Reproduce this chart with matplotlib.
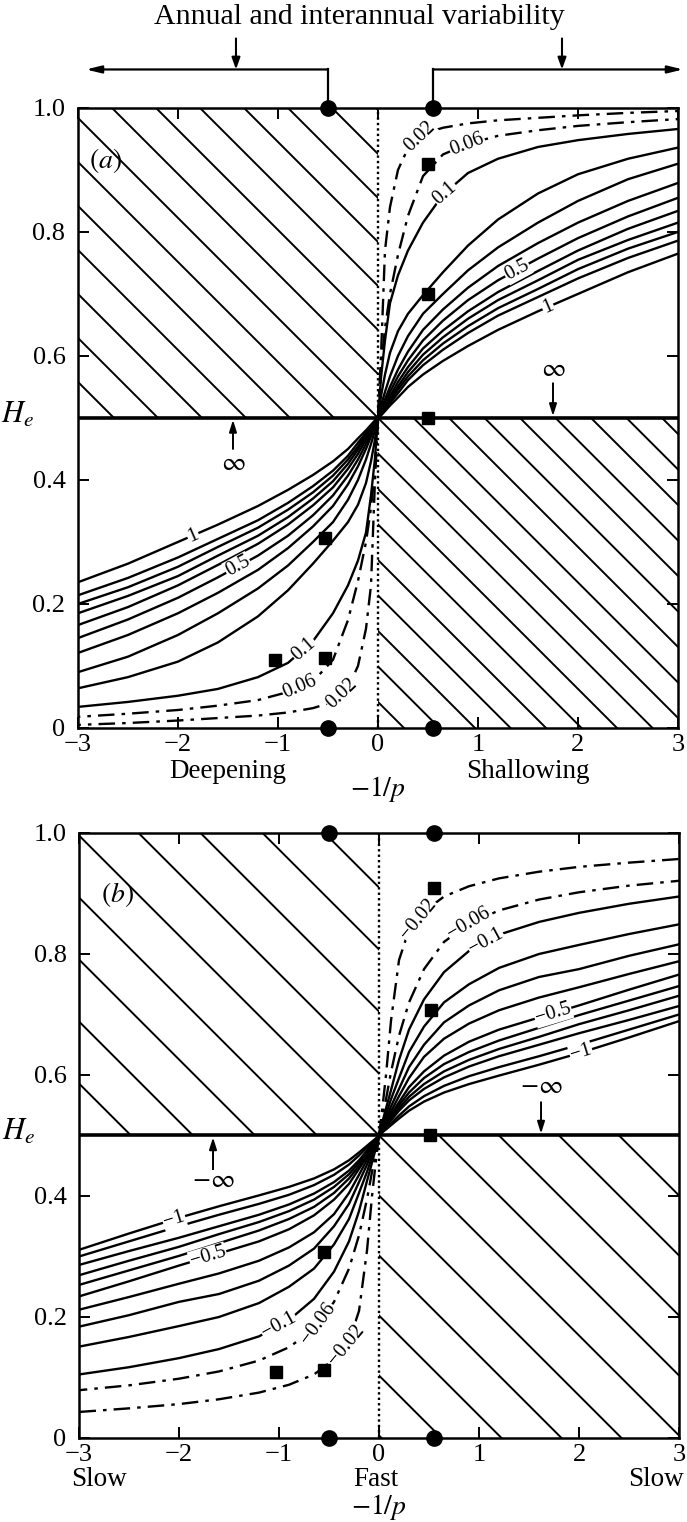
import numpy as np
import matplotlib
matplotlib.use("Agg")
import matplotlib.pyplot as plt
from matplotlib.patches import Rectangle

plt.rcParams['font.family'] = ['Liberation Serif', 'DejaVu Serif']
plt.rcParams['mathtext.fontset'] = 'stix'

# -------------------------------------------------
# Data
# -------------------------------------------------
# x positions (-1/p) at which every contour of the upper-right quadrant was read
x_grid = [0, 0.03, 0.07, 0.12, 0.2, 0.3, 0.45, 0.65, 0.9, 1.2, 1.6, 2.0, 2.5, 3.0]

# panel (a): H_e of each contour in the upper-right quadrant
a_002 = [.5, .60, .77, .84, .90, .935, .958, .968, .975, .98, .984, .988, .992, .995]
a_006 = [.5, .58, .645, .70, .763, .826, .89, .925, .942, .955, .964, .971, .977, .982]
a_01 = [.5, .565, .625, .685, .73, .77, .815, .86, .895, .918, .937, .948, .958, .966]
a_02 = [.5, .535, .57, .605, .64, .668, .698, .735, .778, .82, .862, .893, .918, .936]
a_03 = [.5, .52, .542, .567, .60, .632, .668, .70, .738, .775, .815, .85, .885, .91]
a_04 = [.5, .513, .53, .55, .578, .607, .642, .675, .71, .745, .782, .815, .85, .879]
a_05 = [.5, .51, .524, .542, .567, .593, .625, .657, .69, .722, .757, .79, .825, .855]
a_06 = [.5, .508, .52, .535, .558, .582, .612, .641, .672, .703, .737, .77, .805, .834]
a_07 = [.5, .507, .517, .53, .551, .574, .602, .63, .66, .69, .722, .755, .787, .815]
a_08 = [.5, .506, .515, .527, .546, .567, .593, .62, .648, .677, .708, .74, .773, .80]
a_09 = [.5, .505, .513, .524, .54, .561, .585, .61, .637, .665, .695, .725, .758, .786]
a_1 = [.5, .504, .511, .52, .533, .55, .57, .592, .616, .642, .672, .70, .735, .765]
levels_a = [0.02, 0.06, 0.1, 0.2, 0.3, 0.4, 0.5, 0.6, 0.7, 0.8, 0.9, 1.0]

# panel (b)
b_002 = [.5, .54, .60, .69, .79, .84, .87, .895, .912, .925, .936, .944, .951, .957]
b_006 = [.5, .525, .56, .605, .665, .72, .775, .82, .85, .872, .89, .902, .913, .921]
b_01 = [.5, .52, .545, .575, .625, .675, .725, .77, .805, .832, .853, .868, .883, .895]
b_02 = [.5, .515, .535, .56, .595, .638, .68, .72, .75, .777, .80, .815, .833, .849]
b_03 = [.5, .512, .528, .548, .577, .613, .65, .687, .715, .74, .762, .775, .797, .816]
b_04 = [.5, .51, .524, .54, .565, .595, .63, .66, .685, .707, .728, .745, .767, .788]
b_05 = [.5, .509, .52, .535, .555, .58, .606, .632, .655, .675, .695, .715, .741, .766]
b_06 = [.5, .508, .518, .531, .55, .571, .595, .618, .638, .657, .678, .699, .723, .747]
b_07 = [.5, .507, .516, .528, .545, .564, .585, .606, .625, .643, .663, .684, .707, .731]
b_08 = [.5, .506, .514, .525, .541, .558, .577, .596, .614, .631, .650, .669, .691, .714]
b_09 = [.5, .505, .512, .52, .533, .548, .565, .582, .598, .613, .631, .65, .675, .70]
b_1 = [.5, .505, .51, .517, .528, .541, .556, .571, .585, .599, .617, .636, .662, .689]
levels_b = [-0.02, -0.06, -0.1, -0.2, -0.3, -0.4, -0.5, -0.6, -0.7, -0.8, -0.9, -1.0]

# labelled contours: (level, x position of the label)
labels_a_ur = [(0.02, 0.42), (0.06, 0.89), (0.1, 0.67), (0.5, 1.39), (1.0, 1.70)]
labels_a_ll = [(0.02, -0.36), (0.06, -0.78), (0.1, -0.74), (0.5, -1.40), (1.0, -1.85)]
labels_b_ur = [(-0.02, 0.39), (-0.06, 0.90), (-0.1, 1.07), (-0.5, 1.74), (-1.0, 2.02)]
labels_b_ll = [(-0.02, -0.33), (-0.06, -0.61), (-0.1, -1.0), (-0.5, -1.71), (-1.0, -2.05)]

# squares and circles
sq_a_x = [0.5, 0.5, 0.5, -0.53, -0.53, -1.03]
sq_a_y = [0.91, 0.70, 0.5, 0.307, 0.113, 0.11]
sq_b_x = [0.55, 0.52, 0.51, -0.55, -0.55, -1.03]
sq_b_y = [0.909, 0.707, 0.5, 0.307, 0.112, 0.109]
dot_x = [-0.5, 0.55]

# infinity arrows: x, tail H, label text, label H
inf_a = [(1.75, 0.556, r'$\infty$', 0.578), (-1.45, 0.45, r'$\infty$', 0.425)]
inf_b = [(1.62, 0.555, r'$-\infty$', 0.58), (-1.66, 0.443, r'$-\infty$', 0.424)]

# -------------------------------------------------
# Figure
# -------------------------------------------------
W, H = 6.87, 15.22
fig = plt.figure(figsize=(W, H), dpi=100)
pos_a = [0.1135, 0.5217, 0.8734, 0.4074]
pos_b = [0.115, 0.0552, 0.8734, 0.3975]
ax_a = fig.add_axes(pos_a)
ax_b = fig.add_axes(pos_b)


def fmt(v):
    s = ('%g' % abs(v))
    return ('\u2212' + s) if v < 0 else s


def hatch(ax, pos, x0, x1, y0, y1, step):
    ppx = W * 100 * pos[2] / 6.0
    ppy = H * 100 * pos[3] / 1.0
    k = -ppx / ppy
    rect = Rectangle((x0, y0), x1 - x0, y1 - y0, transform=ax.transData)
    for n in range(-40, 41):
        c = n * step
        ln, = ax.plot([c - 8, c + 8], [0.5 - 8 * k, 0.5 + 8 * k],
                      color='k', lw=1.4, zorder=1)
        ln.set_clip_path(rect)


def label_on(ax, xs, ys, xl, text):
    order = np.argsort(xs)
    xs = np.asarray(xs)[order]
    ys = np.asarray(ys)[order]
    yl = np.interp(xl, xs, ys)
    d = 0.02
    p1 = ax.transData.transform((xl - d, np.interp(xl - d, xs, ys)))
    p2 = ax.transData.transform((xl + d, np.interp(xl + d, xs, ys)))
    ang = np.degrees(np.arctan2(p2[1] - p1[1], p2[0] - p1[0]))
    ax.text(xl, yl, text, rotation=ang, rotation_mode='anchor',
            ha='center', va='center', fontsize=14.5, zorder=4,
            bbox=dict(fc='white', ec='none', pad=0.6))


def panel(ax, pos, curves, levels, lab_ur, lab_ll, sq_x, sq_y, infs,
          step_ul, step_lr):
    ax.set_xlim(-3, 3)
    ax.set_ylim(0, 1)
    ax.autoscale(False)

    hatch(ax, pos, -3, 0, 0.5, 1, step_ul)
    hatch(ax, pos, 0, 3, 0, 0.5, step_lr)

    for i, (lev, hv) in enumerate(zip(levels, curves)):
        ls = (0, (7, 3, 1.5, 3)) if i < 2 else '-'
        # upper-right quadrant as read, lower-left is its mirror about (0, 0.5)
        ax.plot(x_grid, hv, color='k', lw=1.7, ls=ls, zorder=2)
        ax.plot([-x for x in x_grid], [1 - h for h in hv], color='k',
                lw=1.7, ls=ls, zorder=2)

    for lev, xl in lab_ur:
        hv = curves[levels.index(lev)]
        label_on(ax, x_grid, hv, xl, fmt(lev))
    for lev, xl in lab_ll:
        hv = curves[levels.index(lev)]
        label_on(ax, [-x for x in x_grid], [1 - h for h in hv], xl, fmt(lev))

    ax.plot([0, 0], [0, 1], color='k', lw=1.7, ls=(0, (1, 1.3)), zorder=2)
    ax.axhline(0.5, color='k', lw=2.6, zorder=3)

    ax.plot(sq_x, sq_y, 's', color='k', ms=9, zorder=5)
    ax.plot(dot_x, [1, 1], 'o', color='k', ms=11, clip_on=False, zorder=6)
    ax.plot(dot_x, [0, 0], 'o', color='k', ms=11, clip_on=False, zorder=6)

    for xi, tail, txt, ty in infs:
        head = 0.503 if tail > 0.5 else 0.497
        ax.annotate('', xy=(xi, head), xytext=(xi, tail),
                    arrowprops=dict(arrowstyle='-|>,head_length=0.7,head_width=0.22',
                                    color='k', lw=1.4, shrinkA=0, shrinkB=0),
                    zorder=4)
        ax.text(xi, ty, txt, ha='center', va='center', fontsize=19,
                bbox=dict(fc='white', ec='none', pad=0.5), zorder=4)

    ax.set_xticks(range(-3, 4))
    ax.set_xticklabels([fmt(v) if v != 0 else '0' for v in range(-3, 4)])
    ax.set_yticks([0, 0.2, 0.4, 0.6, 0.8, 1.0])
    ax.set_yticklabels(['0', '0.2', '0.4', '0.6', '0.8', '1.0'])
    ax.tick_params(direction='in', length=8, width=1.4, top=True, right=True,
                   labelsize=19)
    ax.tick_params(axis='x', pad=4)
    ax.tick_params(axis='y', pad=9)
    for sp in ax.spines.values():
        sp.set_linewidth(1.8)
    ax.text(-0.1, 0.505, r'$H_e$', transform=ax.transAxes, ha='center',
            va='center', fontsize=22)


panel(ax_a, pos_a, [a_002, a_006, a_01, a_02, a_03, a_04, a_05, a_06, a_07,
                    a_08, a_09, a_1], levels_a, labels_a_ur, labels_a_ll,
      sq_a_x, sq_a_y, inf_a, 0.44, 0.355)
panel(ax_b, pos_b, [b_002, b_006, b_01, b_02, b_03, b_04, b_05, b_06, b_07,
                    b_08, b_09, b_1], levels_b, labels_b_ur, labels_b_ll,
      sq_b_x, sq_b_y, inf_b, 0.62, 0.6)

ax_a.text(-2.72, 0.915, r'$(a)$', fontsize=20, ha='center', va='center')
ax_b.text(-2.62, 0.898, r'$(b)$', fontsize=20, ha='center', va='center')

# axis captions
tr_a = ax_a.get_xaxis_transform()
ax_a.text(-1.5, -0.07, 'Deepening', transform=tr_a, ha='center', va='center', fontsize=19.5)
ax_a.text(1.5, -0.07, 'Shallowing', transform=tr_a, ha='center', va='center', fontsize=19.5)
ax_a.text(0.0, -0.099, r'$-1/p$', transform=tr_a, ha='center', va='center', fontsize=20)

tr_b = ax_b.get_xaxis_transform()
ax_b.text(-3.08, -0.068, 'Slow', transform=tr_b, ha='left', va='center', fontsize=19.5)
ax_b.text(-0.03, -0.068, 'Fast', transform=tr_b, ha='center', va='center', fontsize=19.5)
ax_b.text(3.05, -0.068, 'Slow', transform=tr_b, ha='right', va='center', fontsize=19.5)
ax_b.text(0.0, -0.114, r'$-1/p$', transform=tr_b, ha='center', va='center', fontsize=20)

# header: annual / interannual variability bracket
arrow_kw = dict(arrowstyle='-|>,head_length=0.9,head_width=0.22', color='k',
                lw=1.6, shrinkA=0, shrinkB=0)
y_br = 1.062
ax_a.plot([-0.5, -0.5], [1.0, y_br], color='k', lw=1.6, clip_on=False)
ax_a.plot([0.55, 0.55], [1.0, y_br], color='k', lw=1.6, clip_on=False)
ax_a.annotate('', xy=(-2.92, y_br), xytext=(-0.5, y_br), arrowprops=arrow_kw,
              annotation_clip=False)
ax_a.annotate('', xy=(3.05, y_br), xytext=(0.55, y_br), arrowprops=arrow_kw,
              annotation_clip=False)
small_kw = dict(arrowstyle='-|>,head_length=0.7,head_width=0.25', color='k',
                lw=1.5, shrinkA=0, shrinkB=0)
for xa in [-1.42, 1.84]:
    ax_a.annotate('', xy=(xa, y_br), xytext=(xa, 1.112), arrowprops=small_kw,
                  annotation_clip=False)
ax_a.text(-0.19, 1.147, 'Annual and interannual variability', ha='center',
          va='center', fontsize=21.5)

fig.savefig('out.png', dpi=100)
